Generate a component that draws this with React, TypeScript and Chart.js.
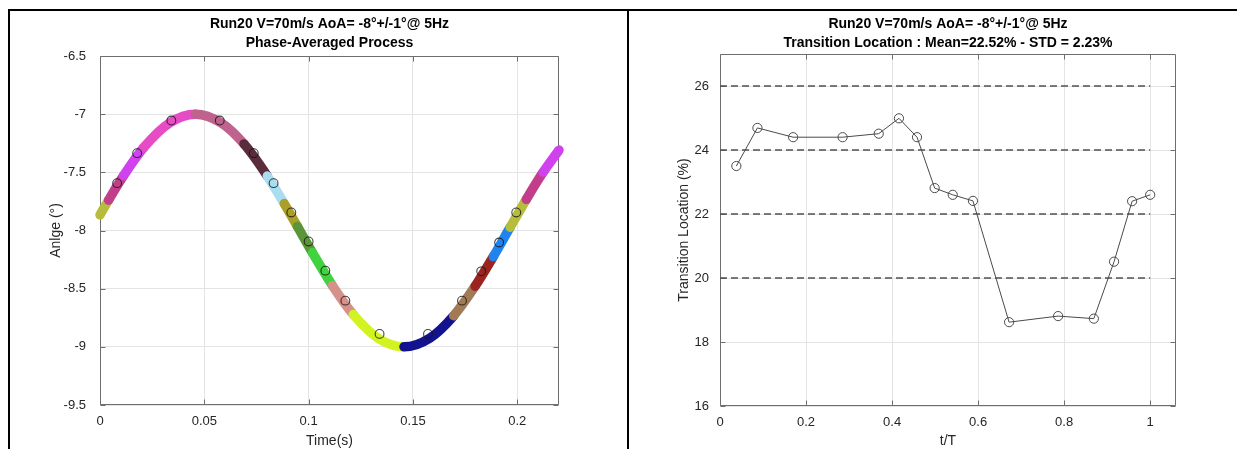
import React, { useEffect, useRef } from "react";
import { Chart, registerables } from "chart.js";

Chart.register(...registerables);

const FONT = '"Liberation Sans", Arial, Helvetica, sans-serif';

// ---------- texts ----------
const titleLine1 = "Run20 V=70m/s AoA= -8°+/-1°@ 5Hz";
const leftTitleLine2 = "Phase-Averaged Process";
const rightTitleLine2 = "Transition Location : Mean=22.52% - STD = 2.23%";
const leftXTitle = "Time(s)";
const leftYTitle = "Anlge (°)";
const rightXTitle = "t/T";
const rightYTitle = "Transition Location (%)";

// ---------- left chart data ----------
const curveTime = [0, 0.0041, 0.0113, 0.021, 0.0335, 0.0457, 0.058, 0.069, 0.0802, 0.0883, 0.0946, 0.1018, 0.1114, 0.1214, 0.1335, 0.1457, 0.158, 0.1695, 0.1798, 0.1885, 0.1966, 0.2043, 0.2124, 0.22];
const curveAngle = [-7.865, -7.739, -7.529, -7.286, -7.073, -7.0, -7.074, -7.256, -7.532, -7.769, -7.965, -8.19, -8.473, -8.722, -8.928, -9.0, -8.926, -8.733, -8.479, -8.225, -7.972, -7.733, -7.499, -7.309];

const phaseBinStart = [0, 0.0041, 0.0113, 0.021, 0.0457, 0.069, 0.0802, 0.0883, 0.0946, 0.1018, 0.1114, 0.1214, 0.1457, 0.1695, 0.1798, 0.1885, 0.1966, 0.2043, 0.2124];
const phaseBinColor = [
  "#b6bd3d", "#c23e8b", "#cf42ee", "#e64cc3", "#c0628e", "#5b2c3c", "#a9ddf0", "#ab9f27",
  "#5a953a", "#40d33f", "#d5918a", "#d2f221", "#13138f", "#a37a56", "#9b2423", "#2184ee",
  "#b6bd3d", "#c23e8b", "#cf42ee",
];

const markerTime = [0.0082, 0.0178, 0.0342, 0.0574, 0.0737, 0.0832, 0.0917, 0.1, 0.108, 0.1176, 0.134, 0.1572, 0.1735, 0.1827, 0.1913, 0.1995];
const markerAngle = [-7.593, -7.335, -7.055, -7.055, -7.335, -7.593, -7.845, -8.094, -8.345, -8.603, -8.889, -8.889, -8.603, -8.351, -8.103, -7.845];

const leftXTicks = { min: 0, max: 0.22, step: 0.05 };
const leftYTicks = { min: -9.5, max: -6.5, step: 0.5 };

// ---------- right chart data ----------
const phaseT = [0.038, 0.087, 0.17, 0.285, 0.369, 0.416, 0.458, 0.499, 0.541, 0.588, 0.672, 0.786, 0.869, 0.916, 0.958, 1.0];
const transitionLoc = [23.5, 24.69, 24.4, 24.4, 24.51, 24.99, 24.4, 22.81, 22.6, 22.41, 18.62, 18.81, 18.73, 20.51, 22.4, 22.6];
const refLevels = [20, 22, 24, 26];
const refSpan = [0, 1];

const rightXTicks = { min: 0, max: 1.06, step: 0.2 };
const rightYTicks = { min: 16, max: 27, step: 2 };

// ---------- helpers ----------
const fmt = (v: any) => String(parseFloat(Number(v).toFixed(4)));

function binColorAt(t: number) {
  let idx = 0;
  for (let i = 0; i < phaseBinStart.length; i++) {
    if (phaseBinStart[i] <= t + 1e-9) idx = i;
  }
  return phaseBinColor[idx];
}

function decorPlugin(cfg: { title2: string; xTitle: string; yTitle: string; yTitleX: number }) {
  return {
    id: "decor",
    beforeDatasetsDraw(chart: any) {
      const { ctx, chartArea: a, scales } = chart;
      const L = Math.round(a.left) + 0.5;
      const R = Math.round(a.right) - 0.5;
      const T = Math.round(a.top) + 0.5;
      const B = Math.round(a.bottom) - 0.5;
      ctx.save();
      ctx.strokeStyle = "#6e6e6e";
      ctx.lineWidth = 1;
      ctx.beginPath();
      ctx.rect(L, T, R - L, B - T);
      const tl = 5;
      scales.x.ticks.forEach((tk: any) => {
        const x = Math.round(scales.x.getPixelForValue(tk.value)) + 0.5;
        ctx.moveTo(x, B);
        ctx.lineTo(x, B - tl);
        ctx.moveTo(x, T);
        ctx.lineTo(x, T + tl);
      });
      scales.y.ticks.forEach((tk: any) => {
        const y = Math.round(scales.y.getPixelForValue(tk.value)) + 0.5;
        ctx.moveTo(L, y);
        ctx.lineTo(L + tl, y);
        ctx.moveTo(R, y);
        ctx.lineTo(R - tl, y);
      });
      ctx.stroke();
      ctx.restore();
    },
    afterDraw(chart: any) {
      const { ctx, chartArea: a } = chart;
      const cx = (a.left + a.right) / 2;
      const cy = (a.top + a.bottom) / 2;
      ctx.save();
      ctx.fillStyle = "#000";
      ctx.textAlign = "center";
      ctx.textBaseline = "middle";
      ctx.font = `bold 14px ${FONT}`;
      ctx.fillText(titleLine1, cx, 13);
      ctx.fillText(cfg.title2, cx, 32);
      ctx.fillStyle = "#262626";
      ctx.font = `14px ${FONT}`;
      ctx.fillText(cfg.xTitle, cx, 430);
      ctx.translate(cfg.yTitleX, cy);
      ctx.rotate(-Math.PI / 2);
      ctx.fillText(cfg.yTitle, 0, 0);
      ctx.restore();
    },
  };
}

function scaleOpts(t: { min: number; max: number; step: number }, axis: "x" | "y", pad: number) {
  return {
    type: "linear",
    bounds: "data",
    min: t.min,
    max: t.max,
    border: { display: false },
    grid: { color: "#e4e4e4", lineWidth: 1, drawTicks: false },
    ticks: {
      stepSize: t.step,
      includeBounds: false,
      autoSkip: false,
      maxRotation: 0,
      padding: pad,
      color: "#262626",
      font: { family: FONT, size: 13 },
      callback: (v: any) => fmt(v),
    },
    afterBuildTicks: (s: any) => {
      s.ticks = s.ticks.filter((tk: any) => {
        const k = (tk.value - t.min) / t.step;
        return Math.abs(k - Math.round(k)) < 1e-6;
      });
    },
    afterFit: (s: any) => {
      if (axis === "y") s.width = 50;
      else s.height = 30;
    },
  };
}

function LeftChart() {
  const ref = useRef<HTMLCanvasElement>(null);
  useEffect(() => {
    if (!ref.current) return;
    const chart = new Chart(ref.current, {
      type: "line",
      data: {
        datasets: [
          {
            data: markerTime.map((t, i) => ({ x: t, y: markerAngle[i] })),
            showLine: false,
            pointRadius: 4.4,
            pointBorderWidth: 1.1,
            pointBorderColor: "rgba(20,20,20,0.8)",
            pointBackgroundColor: "rgba(0,0,0,0)",
            order: 0,
          },
          {
            data: curveTime.map((t, i) => ({ x: t, y: curveAngle[i] })),
            borderWidth: 9.5,
            borderCapStyle: "round",
            borderJoinStyle: "round",
            cubicInterpolationMode: "monotone",
            pointRadius: 0,
            clip: 12,
            borderColor: "#b6bd3d",
            segment: {
              borderColor: (ctx: any) => binColorAt(curveTime[ctx.p0DataIndex]),
            },
            order: 1,
          },
        ],
      } as any,
      options: {
        animation: false,
        responsive: false,
        events: [],
        layout: { padding: { left: 40, right: 68, top: 45, bottom: 14 } },
        plugins: { legend: { display: false }, tooltip: { enabled: false }, title: { display: false } },
        scales: {
          x: scaleOpts(leftXTicks, "x", 9),
          y: scaleOpts(leftYTicks, "y", 14),
        } as any,
      },
      plugins: [decorPlugin({ title2: leftTitleLine2, xTitle: leftXTitle, yTitle: leftYTitle, yTitleX: 46 })],
    });
    return () => chart.destroy();
  }, []);
  return <canvas ref={ref} width={617} height={438} style={{ display: "block" }} />;
}

function RightChart() {
  const ref = useRef<HTMLCanvasElement>(null);
  useEffect(() => {
    if (!ref.current) return;
    const refSets = refLevels.map((lv) => ({
      data: refSpan.map((x) => ({ x, y: lv })),
      borderColor: "#505050",
      borderWidth: 1.3,
      borderDash: [7, 4],
      pointRadius: 0,
      order: 2,
    }));
    const chart = new Chart(ref.current, {
      type: "line",
      data: {
        datasets: [
          {
            data: phaseT.map((t, i) => ({ x: t, y: transitionLoc[i] })),
            borderColor: "#4a4a4a",
            borderWidth: 1,
            pointRadius: 4.6,
            pointBorderWidth: 1,
            pointBorderColor: "#4a4a4a",
            pointBackgroundColor: "rgba(0,0,0,0)",
            tension: 0,
            order: 0,
          },
          ...refSets,
        ],
      } as any,
      options: {
        animation: false,
        responsive: false,
        events: [],
        layout: { padding: { left: 41, right: 69, top: 43, bottom: 13 } },
        plugins: { legend: { display: false }, tooltip: { enabled: false }, title: { display: false } },
        scales: {
          x: scaleOpts(rightXTicks, "x", 9),
          y: scaleOpts(rightYTicks, "y", 11),
        } as any,
      },
      plugins: [decorPlugin({ title2: rightTitleLine2, xTitle: rightXTitle, yTitle: rightYTitle, yTitleX: 55 })],
    });
    return () => chart.destroy();
  }, []);
  return <canvas ref={ref} width={616} height={438} style={{ display: "block" }} />;
}

export default function App() {
  return (
    <div style={{ position: "relative", width: 1237, height: 441, overflow: "hidden", background: "#fff" }}>
      <div style={{ position: "absolute", left: 0, top: 1, width: 1237, height: 2, background: "#000" }} />
      <div style={{ position: "absolute", left: 0, top: 1, width: 2, height: 440, background: "#000" }} />
      <div style={{ position: "absolute", left: 619, top: 1, width: 2, height: 440, background: "#000" }} />
      <div style={{ position: "absolute", left: 2, top: 3, width: 617, height: 438 }}>
        <LeftChart />
      </div>
      <div style={{ position: "absolute", left: 621, top: 3, width: 616, height: 438 }}>
        <RightChart />
      </div>
    </div>
  );
}
